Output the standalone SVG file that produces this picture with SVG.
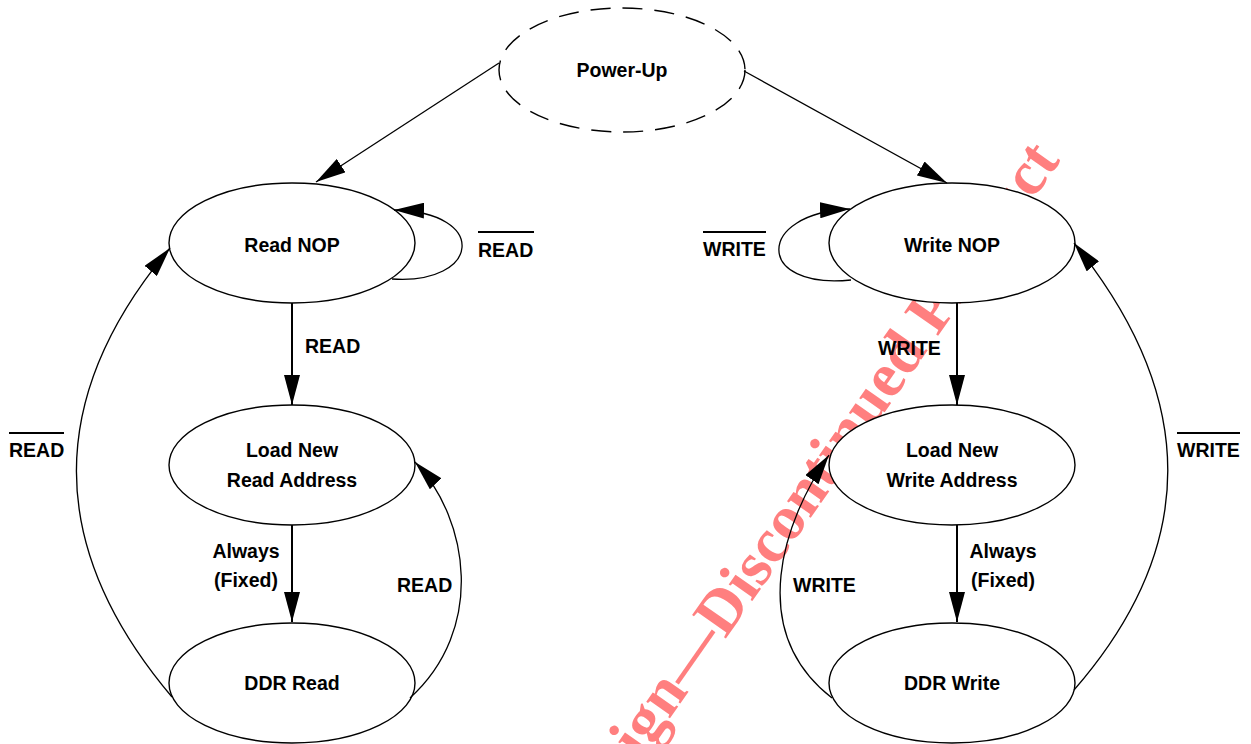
<svg xmlns="http://www.w3.org/2000/svg" width="1251" height="744" viewBox="0 0 1251 744">
  <style>
    .node { fill: #ffffff; stroke: #000000; stroke-width: 1.4; }
    .dashed { stroke-dasharray: 20 12; }
    .lbl { font-family: "Liberation Sans", Arial, sans-serif; font-weight: bold; font-size: 19.5px; fill: #000000; }
    .mid { text-anchor: middle; }
    .edge { fill: none; stroke: #000000; stroke-width: 1.3; }
    .thick { stroke-width: 2; }
    .bar { stroke: #000000; stroke-width: 2; }
    .wm { font-family: "Liberation Serif", "Times New Roman", serif; font-weight: bold; font-size: 63px; fill: #ff7f7f; }
  </style>
  <defs>
    <marker id="arrow" viewBox="0 0 30 16" refX="30" refY="8" markerWidth="30" markerHeight="16" markerUnits="userSpaceOnUse" orient="auto">
      <path d="M0,0 L30,8 L0,16 z" fill="#000000"/>
    </marker>
  </defs>
  <rect x="0" y="0" width="1251" height="744" fill="#ffffff"/>

  <text class="wm" transform="translate(641,760) rotate(-55)">ign—Discontinued Product</text>

  <g id="power-up">
    <ellipse class="node dashed" cx="622" cy="70" rx="123" ry="62"/>
    <text class="lbl mid" x="622" y="77">Power-Up</text>
  </g>
  <g id="read-nop">
    <ellipse class="node" cx="292" cy="243" rx="123" ry="60"/>
    <text class="lbl mid" x="292" y="252">Read NOP</text>
  </g>
  <g id="load-read">
    <ellipse class="node" cx="292" cy="465" rx="123" ry="60"/>
    <text class="lbl mid" x="292" y="457">Load New</text>
    <text class="lbl mid" x="292" y="487">Read Address</text>
  </g>
  <g id="ddr-read">
    <ellipse class="node" cx="292" cy="683" rx="123" ry="60"/>
    <text class="lbl mid" x="292" y="690">DDR Read</text>
  </g>
  <g id="write-nop">
    <ellipse class="node" cx="952" cy="243" rx="123" ry="60"/>
    <text class="lbl mid" x="952" y="252">Write NOP</text>
  </g>
  <g id="load-write">
    <ellipse class="node" cx="952" cy="465" rx="123" ry="60"/>
    <text class="lbl mid" x="952" y="457">Load New</text>
    <text class="lbl mid" x="952" y="487">Write Address</text>
  </g>
  <g id="ddr-write">
    <ellipse class="node" cx="952" cy="683" rx="123" ry="60"/>
    <text class="lbl mid" x="952" y="690">DDR Write</text>
  </g>

  <g id="connectors">
    <path class="edge" d="M499,63 L316,182" marker-end="url(#arrow)"/>
    <path class="edge" d="M744,71 L947,183" marker-end="url(#arrow)"/>
    <path class="edge" d="M392,279 C480,285 490,212 394,210" marker-end="url(#arrow)"/>
    <path class="edge" d="M851,280 C755,290 755,213 850,209" marker-end="url(#arrow)"/>
    <path class="edge thick" d="M292,303 L292,405" marker-end="url(#arrow)"/>
    <path class="edge thick" d="M292,525 L292,622" marker-end="url(#arrow)"/>
    <path class="edge thick" d="M957,303 L957,405" marker-end="url(#arrow)"/>
    <path class="edge thick" d="M957,525 L957,622" marker-end="url(#arrow)"/>
    <path class="edge" d="M172,697 C35,535 55,385 170,248" marker-end="url(#arrow)"/>
    <path class="edge" d="M1074,690 C1209,535 1189,385 1074,243" marker-end="url(#arrow)"/>
    <path class="edge" d="M410,698 C485,630 470,520 415,462" marker-end="url(#arrow)"/>
    <path class="edge" d="M832,698 C745,630 784,520 829,455" marker-end="url(#arrow)"/>
  </g>

  <g id="labels">
    <text class="lbl" x="305" y="353">READ</text>
    <text class="lbl mid" x="246" y="558">Always</text>
    <text class="lbl mid" x="246" y="587">(Fixed)</text>
    <text class="lbl" x="397" y="592">READ</text>
    <text class="lbl" x="878" y="355">WRITE</text>
    <text class="lbl mid" x="1003" y="558">Always</text>
    <text class="lbl mid" x="1003" y="587">(Fixed)</text>
    <text class="lbl" x="793" y="592">WRITE</text>
    <text class="lbl" x="478" y="257">READ</text>
    <line class="bar" x1="478" y1="232" x2="534" y2="232"/>
    <text class="lbl" x="703" y="256">WRITE</text>
    <line class="bar" x1="703" y1="232" x2="766" y2="232"/>
    <text class="lbl" x="9" y="457">READ</text>
    <line class="bar" x1="9" y1="433" x2="64" y2="433"/>
    <text class="lbl" x="1177" y="457">WRITE</text>
    <line class="bar" x1="1177" y1="433" x2="1240" y2="433"/>
  </g>
</svg>
